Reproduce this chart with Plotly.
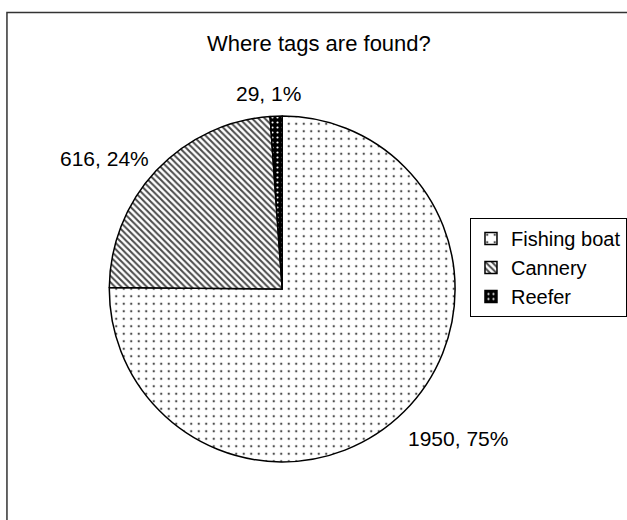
import plotly.graph_objects as go

# Where recovered tags were found
categories = ["Fishing boat", "Cannery", "Reefer"]
counts = [1950, 616, 29]
title_text = "Where tags are found?"

total = sum(counts)
label_texts = [f"{c}, {round(100 * c / total)}%" for c in counts]

W, H = 627, 520
FONT = "Liberation Sans, Arial, sans-serif"


def px(x):
    return x / W


def py(y):
    return 1 - y / H


fig = go.Figure(
    go.Pie(
        labels=categories,
        values=counts,
        sort=False,
        direction="clockwise",
        rotation=0,
        textinfo="none",
        hoverinfo="label+value+percent",
        domain=dict(x=[px(110), px(458)], y=[py(464), py(114)]),
        marker=dict(
            colors=["white", "white", "black"],
            line=dict(color="black", width=1.5),
            pattern=dict(
                shape=[".", "\\", "."],
                bgcolor=["white", "white", "black"],
                fgcolor=["#4d4d4d", "#4a4a4a", "white"],
                size=[7.5, 4.5, 5],
                solidity=[0.08, 0.45, 0.15],
                fillmode="replace",
            ),
        ),
    )
)

# slice labels: "count, percent"
label_pos = [(461, 438), (105, 158), (270, 93)]
for txt, (x, y) in zip(label_texts, label_pos):
    fig.add_annotation(
        x=px(x), y=py(y), xref="paper", yref="paper",
        text=txt, showarrow=False,
        font=dict(family=FONT, size=21, color="black"),
        xanchor="center", yanchor="middle",
    )

# chart title
fig.add_annotation(
    x=px(321), y=py(43), xref="paper", yref="paper",
    text=title_text, showarrow=False,
    font=dict(family=FONT, size=22, color="black"),
    xanchor="center", yanchor="middle",
)

# chart area frame
fig.add_shape(
    type="rect", xref="paper", yref="paper",
    x0=px(7), x1=1.1, y0=-0.1, y1=py(12.5),
    line=dict(color="#333333", width=1.5),
    fillcolor="rgba(0,0,0,0)",
)

fig.update_layout(
    width=W, height=H,
    margin=dict(l=0, r=0, t=0, b=0),
    paper_bgcolor="white",
    plot_bgcolor="white",
    font=dict(family=FONT, size=20, color="black"),
    showlegend=True,
    legend=dict(
        x=px(473), y=py(218), xanchor="left", yanchor="top",
        bordercolor="black", borderwidth=1,
        bgcolor="white",
        font=dict(family=FONT, size=20, color="black"),
        itemwidth=30,
        tracegroupgap=0,
    ),
)

fig.write_html("out.html")
